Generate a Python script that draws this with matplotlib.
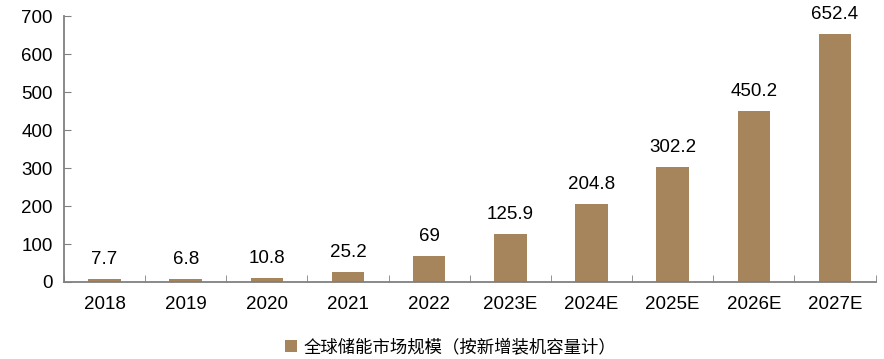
import matplotlib
matplotlib.use("Agg")
import matplotlib.pyplot as plt
import numpy as np

# data
years = ["2018", "2019", "2020", "2021", "2022", "2023E", "2024E", "2025E", "2026E", "2027E"]
values = [7.7, 6.8, 10.8, 25.2, 69, 125.9, 204.8, 302.2, 450.2, 652.4]
labels = ["7.7", "6.8", "10.8", "25.2", "69", "125.9", "204.8", "302.2", "450.2", "652.4"]
series_name = "全球储能市场规模（按新增装机容量计）"

bar_color = "#A6845C"
axis_color = "#808080"

fig = plt.figure(figsize=(8.84, 3.59), dpi=100)
ax = fig.add_axes([0.0724, 0.2145, 0.918, 0.7405])

x = np.arange(len(years))
bars = ax.bar(x, values, width=0.4, color=bar_color, label=series_name)

for xi, v, lab in zip(x, values, labels):
    ax.text(xi, v + 29, lab, ha="center", va="bottom", fontsize=13.5,
            family="Liberation Sans")

ax.set_xlim(-0.5, len(years) - 0.5)
ax.set_ylim(0, 700)
ax.set_yticks(range(0, 701, 100))
ax.set_xticks(x)
ax.set_xticklabels(years)
ax.set_xticks(np.arange(-0.5, len(years) + 0.5), minor=True)

for lab in ax.get_xticklabels() + ax.get_yticklabels():
    lab.set_family("Liberation Sans")
    lab.set_fontsize(13.5)

ax.tick_params(axis="x", which="major", length=0, pad=10)
ax.tick_params(axis="x", which="minor", direction="in", length=5, color=axis_color)
ax.tick_params(axis="y", direction="in", length=5, color=axis_color, pad=8)

for s in ["top", "right"]:
    ax.spines[s].set_visible(False)
for s in ["left", "bottom"]:
    ax.spines[s].set_color(axis_color)
    ax.spines[s].set_linewidth(1.3)

leg = fig.legend(loc="lower center", bbox_to_anchor=(0.51, -0.035), frameon=False,
                 handlelength=0.7, handleheight=0.7, handletextpad=0.4,
                 prop={"family": ["Noto Sans CJK SC", "DejaVu Sans"], "size": 12.5})

fig.savefig("out.png", dpi=100)
